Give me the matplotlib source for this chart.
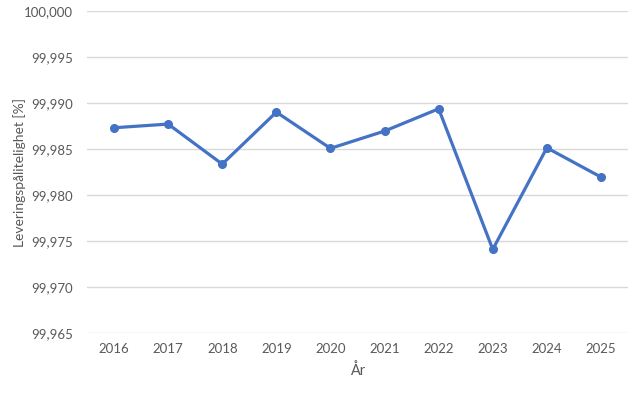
import matplotlib.pyplot as plt
from matplotlib.ticker import FuncFormatter

# data
years = ['2016', '2017', '2018', '2019', '2020', '2021', '2022', '2023', '2024', '2025']
values = [99.98732, 99.98772, 99.98337, 99.98902, 99.98508,
          99.98696, 99.98938, 99.97410, 99.98514, 99.98196]

plt.rcParams['font.family'] = ['Lato', 'DejaVu Sans']

fig = plt.figure(figsize=(6.35, 3.97), dpi=100)
ax = fig.add_axes([0.137, 0.161, 0.852, 0.811])

x = list(range(len(years)))
ax.plot(x, values, color='#4472C4', linewidth=2.3, marker='o', markersize=5.5,
        solid_joinstyle='round', zorder=3)

ax.set_xlim(-0.5, len(years) - 0.5)
ax.set_ylim(99.965, 100.0)
ax.set_yticks([99.965 + 0.005 * i for i in range(8)])
ax.yaxis.set_major_formatter(FuncFormatter(lambda v, p: f'{v:.3f}'.replace('.', ',')))
ax.set_xticks(x)
ax.set_xticklabels(years)

ax.grid(axis='y', color='#D9D9D9', linewidth=1)
ax.set_axisbelow(True)
for s in ax.spines.values():
    s.set_visible(False)
ax.tick_params(length=0, colors='#595959', labelsize=9.5)
ax.tick_params(axis='y', pad=10)
ax.tick_params(axis='x', pad=7)

ax.set_xlabel('År', color='#595959', fontsize=10.5, labelpad=6)
ax.set_ylabel('Leveringspålitelighet [%]', color='#595959', fontsize=10)
ax.yaxis.set_label_coords(-0.113, 0.5)

fig.savefig('out.png', dpi=100)
